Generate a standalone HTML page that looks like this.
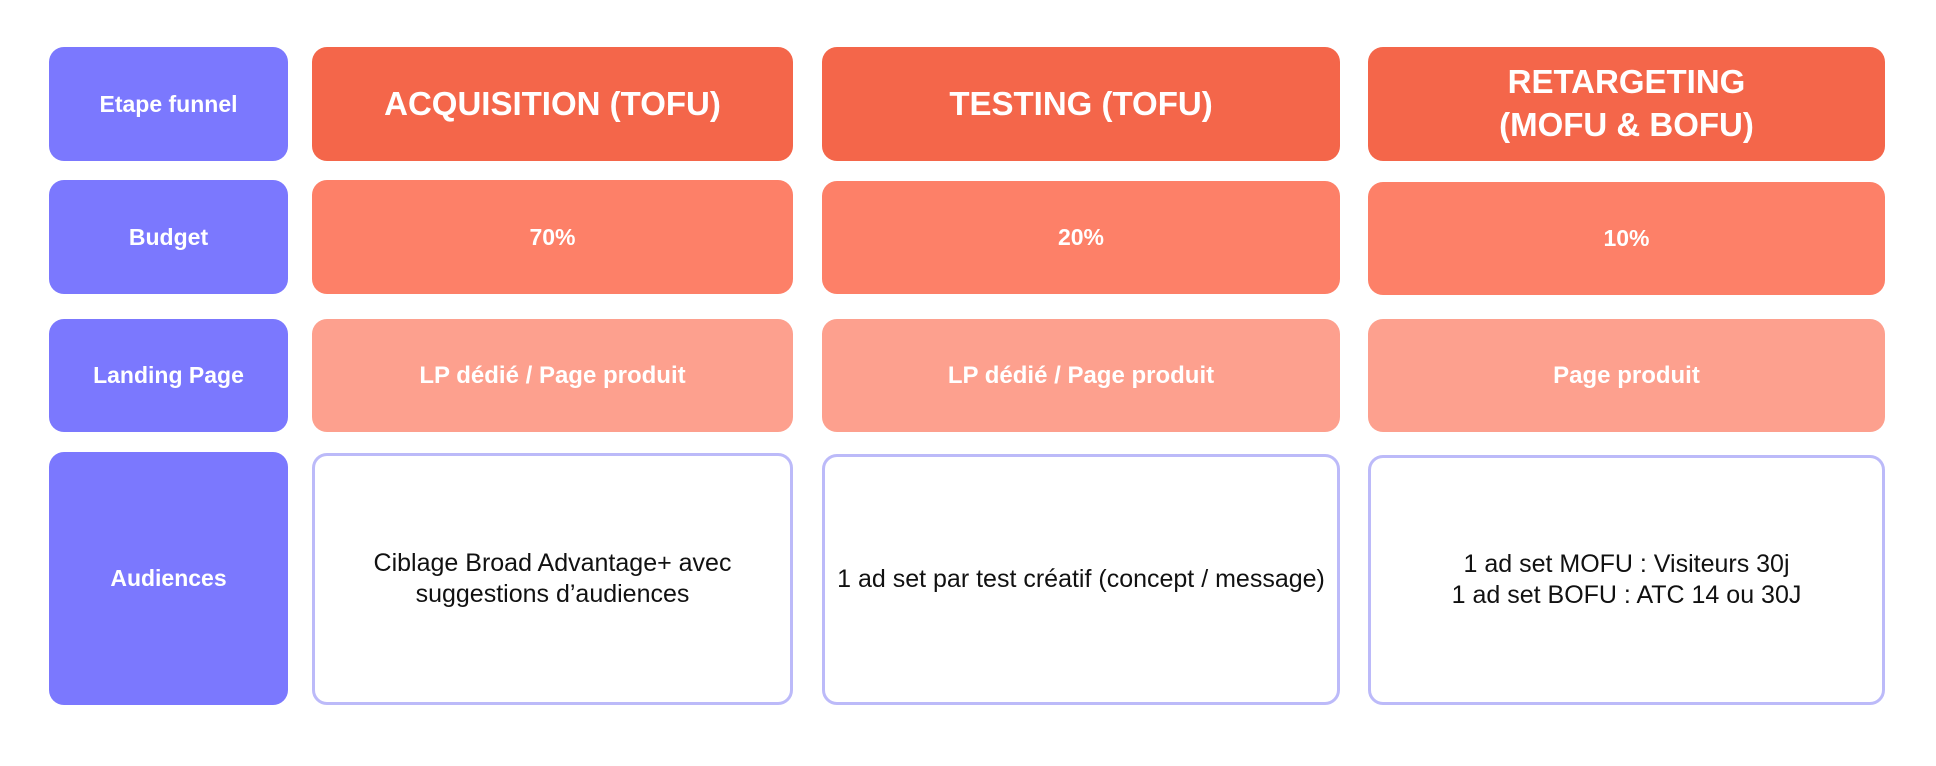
<!DOCTYPE html>
<html><head><meta charset="utf-8"><style>
body{margin:0;width:1936px;height:766px;background:#fff;position:relative;font-family:"Liberation Sans",sans-serif;overflow:hidden}
.b{position:absolute;border-radius:15px;display:flex;align-items:center;justify-content:center;text-align:center;box-sizing:border-box;color:#fff;font-weight:bold}
.l{background:#7b78fe;font-size:23px;left:49px;width:239px}
.h{background:#f4664a;font-size:33px;line-height:1.3}
.g{background:#fd8068;font-size:23px}
.p{background:#fda08e;font-size:24px}
.a{background:#fff;border:3px solid #bcbaf9;color:#111;font-weight:normal;font-size:25px;line-height:1.25}
</style></head><body>
<div class="b l" style="top:47px;height:114px">Etape funnel</div>
<div class="b l" style="top:180px;height:114px">Budget</div>
<div class="b l" style="top:319px;height:113px">Landing Page</div>
<div class="b l" style="top:452px;height:253px">Audiences</div>

<div class="b h" style="left:312px;width:481px;top:47px;height:114px">ACQUISITION (TOFU)</div>
<div class="b h" style="left:822px;width:518px;top:47px;height:114px">TESTING (TOFU)</div>
<div class="b h" style="left:1368px;width:517px;top:47px;height:114px">RETARGETING<br>(MOFU &amp; BOFU)</div>

<div class="b g" style="left:312px;width:481px;top:180px;height:114px">70%</div>
<div class="b g" style="left:822px;width:518px;top:181px;height:113px">20%</div>
<div class="b g" style="left:1368px;width:517px;top:182px;height:113px">10%</div>

<div class="b p" style="left:312px;width:481px;top:319px;height:113px">LP dédié / Page produit</div>
<div class="b p" style="left:822px;width:518px;top:319px;height:113px">LP dédié / Page produit</div>
<div class="b p" style="left:1368px;width:517px;top:319px;height:113px">Page produit</div>

<div class="b a" style="left:312px;width:481px;top:453px;height:252px">Ciblage Broad Advantage+ avec<br>suggestions d’audiences</div>
<div class="b a" style="left:822px;width:518px;top:454px;height:251px">1 ad set par test créatif (concept / message)</div>
<div class="b a" style="left:1368px;width:517px;top:455px;height:250px">1 ad set MOFU : Visiteurs 30j<br>1 ad set BOFU : ATC 14 ou 30J</div>
</body></html>
